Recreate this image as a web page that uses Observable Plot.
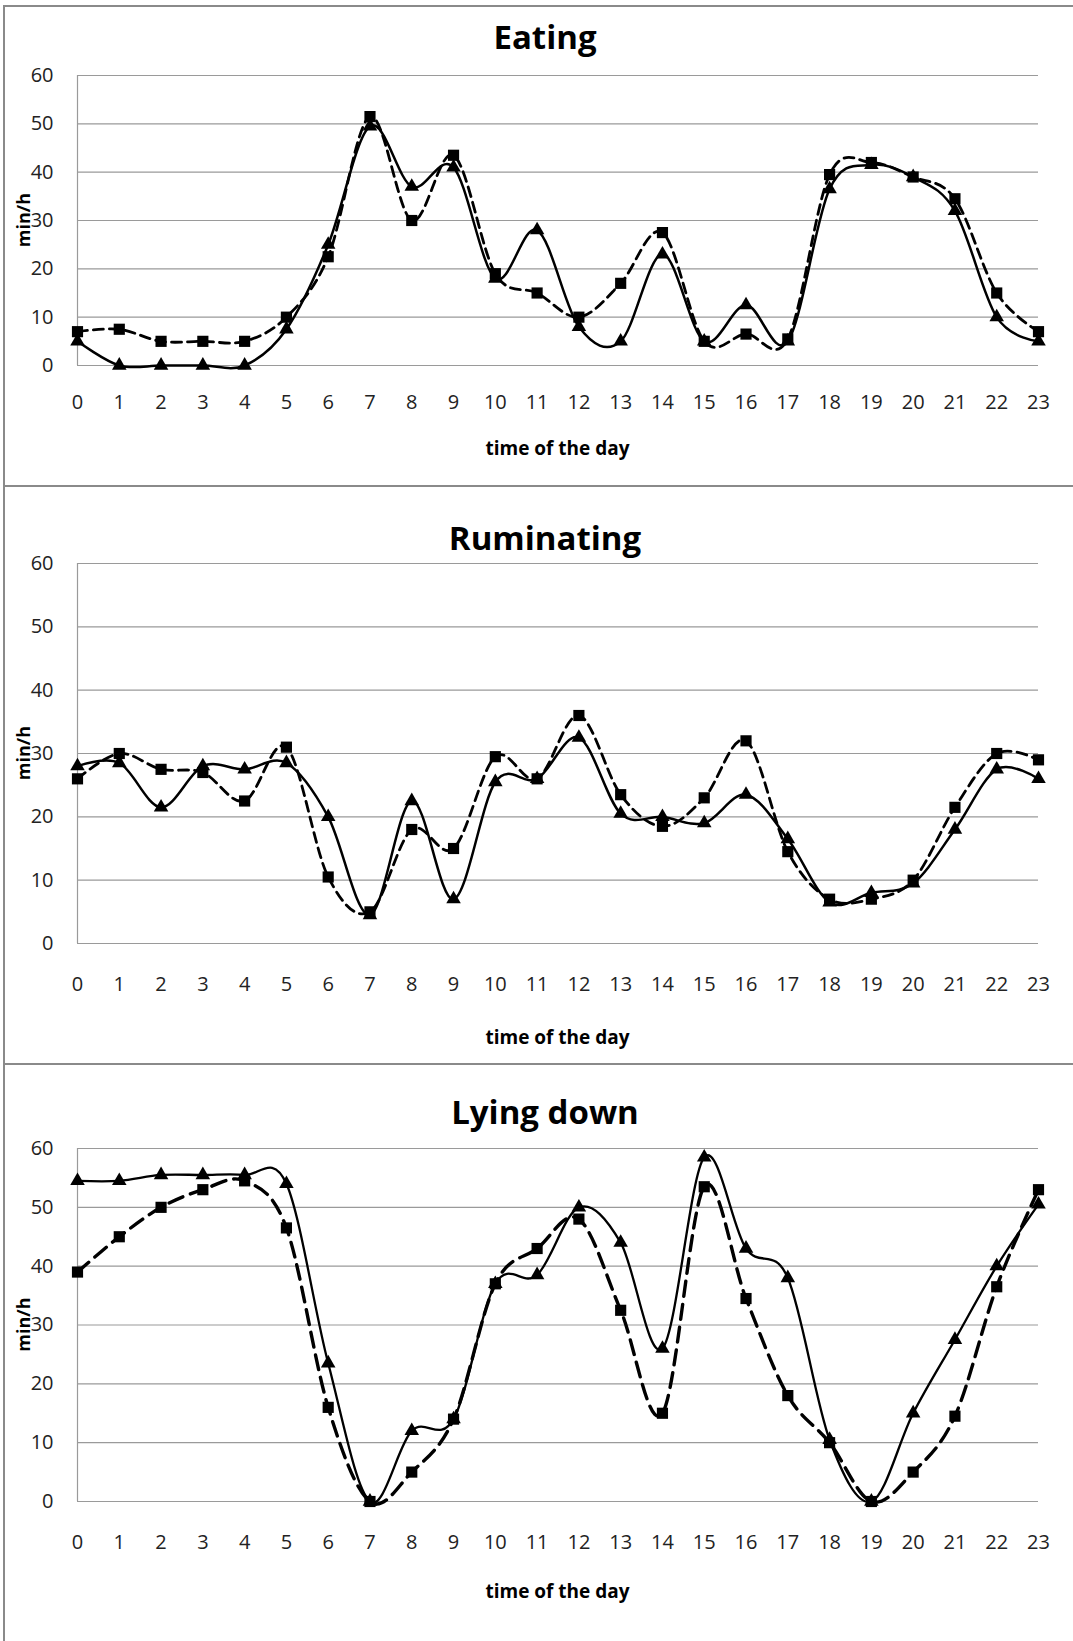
<!DOCTYPE html>
<html><head><meta charset="utf-8">
<script src="https://cdn.jsdelivr.net/npm/d3@7"></script>
<script src="https://cdn.jsdelivr.net/npm/@observablehq/plot@0.6"></script>
<style>
body{margin:0;background:#fff;width:1073px;height:1641px;overflow:hidden;position:relative;font-family:"Open Sans",sans-serif}
.panel{position:absolute;left:3px;width:1100px;border-top:2px solid #8a8a8a;border-left:2px solid #8a8a8a;background:#fff}
.panel svg{display:block}
</style></head><body>
<div id="p1" class="panel" style="top:5px"></div>
<div id="p2" class="panel" style="top:485px"></div>
<div id="p3" class="panel" style="top:1063px"></div>
<script>
const hours = [0,1,2,3,4,5,6,7,8,9,10,11,12,13,14,15,16,17,18,19,20,21,22,23];
const yTicks = [0,10,20,30,40,50,60];
const titles = ["Eating","Ruminating","Lying down"];
const xLabel = "time of the day";
const yLabel = "min/h";

const eatingSolid  = [5,0,0,0,0,7.5,25,49.5,37,41,18,28,8,5,23,5,12.5,5,36.5,41.5,39,32,10,5];
const eatingDashed = [7,7.5,5,5,5,10,22.5,51.5,30,43.5,19,15,10,17,27.5,5,6.5,5.5,39.5,42,39,34.5,15,7];
const rumSolid     = [28,28.5,21.5,28,27.5,28.5,20,4.5,22.5,7,25.5,26,32.5,20.5,20,19,23.5,16.5,6.5,8,9.5,18,27.5,26];
const rumDashed    = [26,30,27.5,27,22.5,31,10.5,5,18,15,29.5,26,36,23.5,18.5,23,32,14.5,7,7,10,21.5,30,29];
const lyingSolid   = [54.5,54.5,55.5,55.5,55.5,54,23.5,0,12,14,37,38.5,50,44,26,58.5,43,38,10.5,0,15,27.5,40,50.5];
const lyingDashed  = [39,45,50,53,54.5,46.5,16,0,5,14,37,43,48,32.5,15,53.5,34.5,18,10,0,5,14.5,36.5,53];

const panels = [
  {id:"p1", solid:eatingSolid, dashed:eatingDashed, height:478, mt:68, mb:120, titleY:42, xlabY:448, tickPad:29, dash:"10,6", sw:2.5, dsw:2.8},
  {id:"p2", solid:rumSolid, dashed:rumDashed, height:576, mt:76, mb:120, titleY:63, xlabY:557, tickPad:33, dash:"10,6", sw:2.5, dsw:2.8},
  {id:"p3", solid:lyingSolid, dashed:lyingDashed, height:576, mt:83, mb:140, titleY:59, xlabY:533, tickPad:33, dash:"15,8", sw:2.3, dsw:3.4}
];

panels.forEach((p, i) => {
  const solidData = hours.map((h, k) => ({hour:h, value:p.solid[k]}));
  const dashedData = hours.map((h, k) => ({hour:h, value:p.dashed[k]}));
  const W = 1068, ml = 72, mr = 35;
  const svg = Plot.plot({
    width: W, height: p.height,
    marginTop: p.mt, marginBottom: p.mb, marginLeft: ml, marginRight: mr,
    x: {domain:[0,23], axis:null},
    y: {domain:[0,60], axis:null},
    style: {fontFamily:"'Open Sans', sans-serif", background:"white", overflow:"visible"},
    marks: [
      Plot.ruleY(yTicks, {stroke:"#9a9a9a", strokeWidth:1.2}),
      Plot.ruleX([0], {y1:0, y2:60, stroke:"#9a9a9a", strokeWidth:1.2}),
      Plot.axisY(yTicks, {tickSize:0, tickPadding:24, fontSize:20, fill:"#222", label:null}),
      Plot.axisX(hours, {tickSize:0, tickPadding:p.tickPad, fontSize:20, fill:"#222", label:null}),
      Plot.line(solidData, {x:"hour", y:"value", curve:"cardinal", tension:0, stroke:"black", strokeWidth:p.sw}),
      Plot.line(dashedData, {x:"hour", y:"value", curve:"cardinal", tension:0, stroke:"black", strokeWidth:p.dsw, strokeDasharray:p.dash}),
      Plot.dot(solidData, {x:"hour", y:"value", symbol:"triangle", r:5.4, fill:"black", stroke:"none"}),
      Plot.dot(dashedData, {x:"hour", y:"value", symbol:"square", r:6.3, fill:"black", stroke:"none"})
    ]
  });
  const s = d3.select(svg);
  s.append("text").attr("x", 540).attr("y", p.titleY).attr("text-anchor","middle")
    .attr("font-size", 33).attr("font-weight", 700).attr("fill","#000").text(titles[i]);
  s.append("text").attr("x", ml + (W - ml - mr)/2).attr("y", p.xlabY).attr("text-anchor","middle")
    .attr("font-size", 19).attr("font-weight", 700).attr("fill","#000").text(xLabel);
  const yc = p.mt + (p.height - p.mt - p.mb)/2;
  s.append("text").attr("transform", `translate(25,${yc}) rotate(-90)`).attr("text-anchor","middle")
    .attr("font-size", 18).attr("font-weight", 700).attr("fill","#000").text(yLabel);
  document.getElementById(p.id).appendChild(svg);
});
</script>
</body></html>
